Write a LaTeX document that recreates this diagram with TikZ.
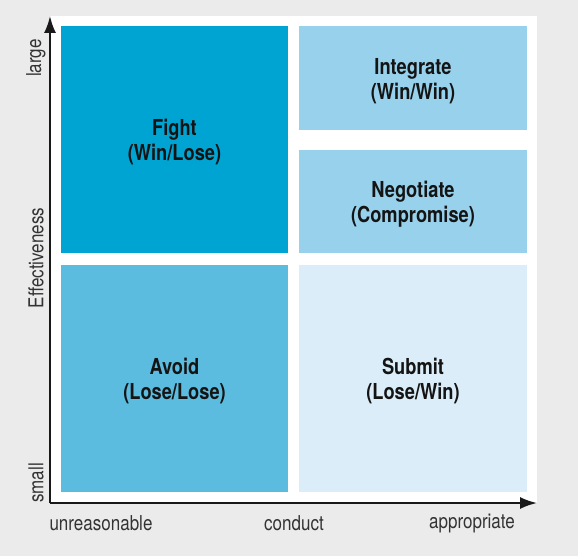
\documentclass[tikz,border=0pt]{standalone}
\usepackage{fontspec}
\setmainfont{TeX Gyre Heros}[FakeStretch=0.83]
\usetikzlibrary{arrows.meta}

\definecolor{bggray}{HTML}{EBEBEB}
\definecolor{fightblue}{HTML}{00A4D3}
\definecolor{midblue}{HTML}{97D1EC}
\definecolor{avoidblue}{HTML}{5BBCE0}
\definecolor{paleblue}{HTML}{DBEDF9}
\definecolor{axistext}{HTML}{333333}

\begin{document}
\begin{tikzpicture}[x=1pt,y=-1pt,
    quad/.style={inner sep=0pt},
    quadtext/.style={align=center, text=black!92, inner sep=0pt,
      font=\bfseries\fontsize{22}{25}\selectfont},
    axislabel/.style={text=axistext, font=\fontsize{20.5}{24}\selectfont, inner sep=0pt}]

    \fill[bggray] (0,0) rectangle (578,556);
    \useasboundingbox (0,0) rectangle (578,556);
    \fill[white] (50,16) rectangle (537,503);

    % quadrants
    \node[quad, fill=fightblue, minimum width=227pt, minimum height=227pt] (fight) at (174.5,139.5) {};
    \node[quad, fill=midblue, minimum width=228pt, minimum height=104pt] (integrate) at (413,78) {};
    \node[quad, fill=midblue, minimum width=228pt, minimum height=103pt] (negotiate) at (413,201.5) {};
    \node[quad, fill=avoidblue, minimum width=227pt, minimum height=227pt] (avoid) at (174.5,378.5) {};
    \node[quad, fill=paleblue, minimum width=228pt, minimum height=227pt] (submit) at (413,378.5) {};

    \node[quadtext] (fighttxt) at ([yshift=-3pt]fight.center) {Fight\\(Win/Lose)};
    \node[quadtext] (integtxt) at ([yshift=-3pt]integrate.center) {Integrate\\(Win/Win)};
    \node[quadtext] (negotxt) at ([yshift=-3pt]negotiate.center) {Negotiate\\(Compromise)};
    \node[quadtext] (avoidtxt) at ([yshift=-3pt]avoid.center) {Avoid\\(Lose/Lose)};
    \node[quadtext] (submittxt) at ([yshift=-3pt]submit.center) {Submit\\(Lose/Win)};

    % axes
    \coordinate (origin) at (50,503);
    \coordinate (ytop) at (50,16);
    \coordinate (xend) at (537,503);
    \draw[-{Latex[length=17pt,width=12pt]}, line width=2pt, black!90] (origin) -- (ytop);
    \draw[-{Latex[length=17pt,width=12pt]}, line width=2pt, black!90] (origin) -- (xend);

    \node[axislabel, rotate=90] (large) at (36,58) {large};
    \node[axislabel, rotate=90] (effect) at (36,258) {Effectiveness};
    \node[axislabel, rotate=90] (small) at (36,483) {small};

    \node[axislabel] (unreas) at (101,523) {unreasonable};
    \node[axislabel] (conduct) at (294,523) {conduct};
    \node[axislabel] (approp) at (472,523) {appropriate};
\end{tikzpicture}
\end{document}
